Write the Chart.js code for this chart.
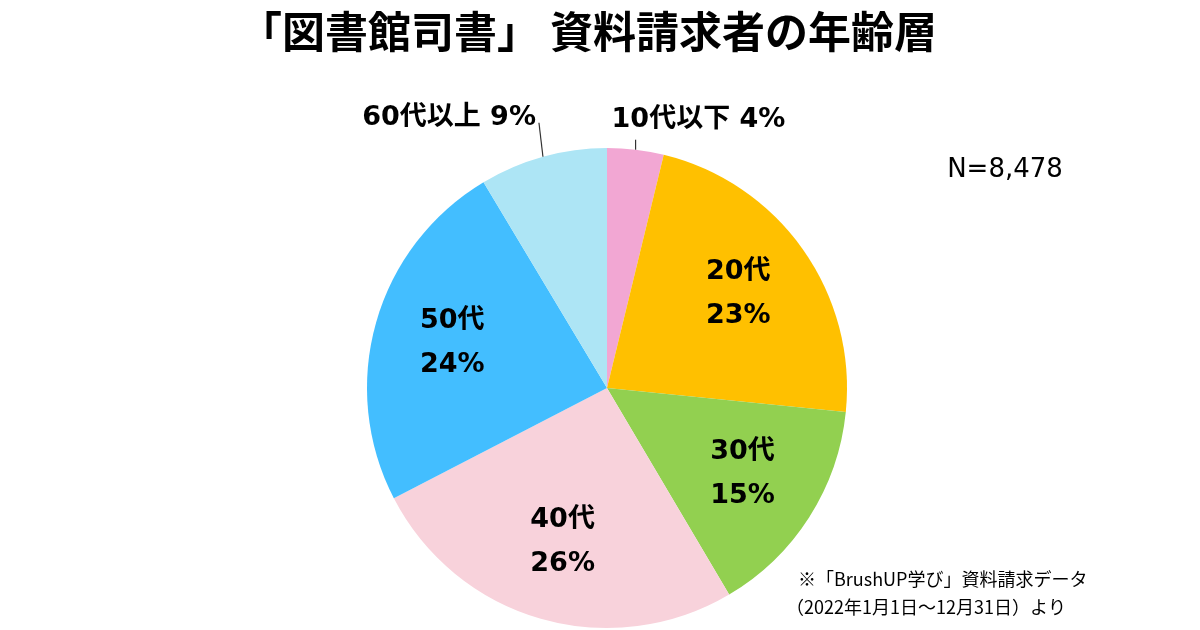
<!DOCTYPE html>
<html lang="ja">
<head>
<meta charset="utf-8">
<script src="https://cdn.jsdelivr.net/npm/chart.js@4.4.1/dist/chart.umd.min.js"></script>
<style>
  html, body { margin: 0; padding: 0; background: #fff; }
  #wrap { width: 1200px; height: 630px; position: relative; }
</style>
</head>
<body>
<div id="wrap"><canvas id="pieChart" width="1200" height="630"></canvas></div>
<script>
const titleText = "「図書館司書」 資料請求者の年齢層";
const categories = ["10代以下", "20代", "30代", "40代", "50代", "60代以上"];
const shares = [3.8, 22.8, 14.9, 25.9, 24.0, 8.6];
const sampleSize = 8478;
const noteLines = ["※「BrushUP学び」資料請求データ", "（2022年1月1日～12月31日）より"];

const colors = ["#F2A7D3", "#FFC000", "#92D050", "#F8D2DB", "#43BEFF", "#ADE5F5"];
const labelFont = "bold 27px 'DejaVu Sans', 'Noto Sans CJK JP', sans-serif";

// small slices get their label outside with a leader line
const outside = {
  0: { line: [0, -10], align: "left", dx: -24, dy: -20 },
  5: { line: [-4, -34], align: "right", dx: -3, dy: -5 }
};

const pct = v => Math.round(v) + "%";

const textPlugin = {
  id: "textPlugin",
  afterDraw(chart) {
    const ctx = chart.ctx;
    ctx.save();
    ctx.fillStyle = "#000";
    ctx.textBaseline = "middle";

    // title
    ctx.textAlign = "center";
    ctx.font = "bold 43px 'Noto Sans CJK JP', sans-serif";
    ctx.fillText(titleText, 588, 32);

    // sample size
    ctx.font = "26px 'DejaVu Sans', sans-serif";
    ctx.fillText("N=" + sampleSize.toLocaleString("en-US"), 1005, 170);

    // source note
    ctx.textAlign = "left";
    ctx.font = "18px 'Noto Sans CJK JP', sans-serif";
    ctx.fillText(noteLines[0], 798, 579);
    ctx.fillText(noteLines[1], 786, 607);

    // slice labels
    const meta = chart.getDatasetMeta(0);
    ctx.font = labelFont;
    meta.data.forEach((arc, i) => {
      const p = arc.getProps(["x", "y", "startAngle", "endAngle", "outerRadius"], true);
      const mid = (p.startAngle + p.endAngle) / 2;
      const value = chart.data.datasets[0].data[i];
      const o = outside[i];
      if (o) {
        const ex = p.x + Math.cos(mid) * p.outerRadius;
        const ey = p.y + Math.sin(mid) * p.outerRadius;
        const lx = ex + o.line[0], ly = ey + o.line[1];
        ctx.strokeStyle = "#333";
        ctx.lineWidth = 1.2;
        ctx.beginPath();
        ctx.moveTo(ex, ey);
        ctx.lineTo(lx, ly);
        ctx.stroke();
        ctx.textAlign = o.align;
        ctx.fillText(categories[i] + " " + pct(value), lx + o.dx, ly + o.dy);
      } else {
        const r = p.outerRadius * 0.67;
        const cx = p.x + Math.cos(mid) * r;
        const cy = p.y + Math.sin(mid) * r;
        ctx.textAlign = "center";
        ctx.fillText(categories[i], cx, cy - 23);
        ctx.fillText(pct(value), cx, cy + 21);
      }
    });
    ctx.restore();
  }
};

new Chart(document.getElementById("pieChart").getContext("2d"), {
  type: "pie",
  data: {
    labels: categories,
    datasets: [{
      data: shares,
      backgroundColor: colors,
      borderWidth: 0
    }]
  },
  options: {
    responsive: false,
    animation: false,
    layout: { padding: { left: 367, right: 353, top: 148, bottom: 2 } },
    plugins: {
      legend: { display: false },
      tooltip: { enabled: false },
      title: { display: false }
    }
  },
  plugins: [textPlugin]
});
</script>
</body>
</html>
